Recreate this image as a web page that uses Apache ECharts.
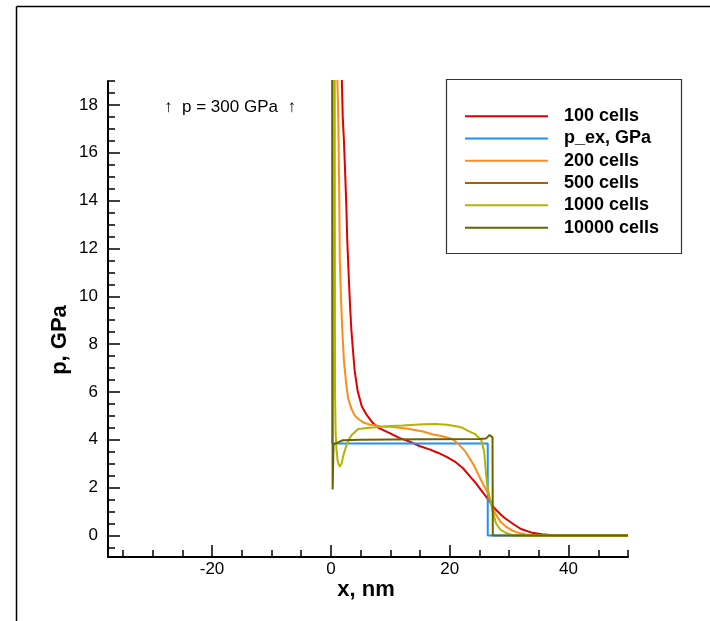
<!DOCTYPE html>
<html>
<head>
<meta charset="utf-8">
<script src="https://cdn.jsdelivr.net/npm/echarts@6/dist/echarts.min.js"></script>
<style>
  html, body { margin: 0; padding: 0; background: #fff; }
  #chart { width: 710px; height: 621px; }
</style>
</head>
<body>
<div id="chart"></div>
<script>
// 各曲线 [x, p] 点,x<0 处压力为 300 GPa(超出画面,由注记说明)
const cells100 = [[-37.5, 300], [1.5, 300], [1.8, 19.5], [2.0, 17.5], [2.2, 16.5], [2.4, 15.2], [2.6, 13.8],
  [2.75, 12.4], [3.05, 10.6], [3.25, 9.5], [3.45, 8.6], [3.7, 7.8], [4.0, 6.9], [4.5, 6.05], [5.2, 5.4],
  [6.0, 5.05], [7.0, 4.72], [8.0, 4.5], [9.9, 4.28], [11.5, 4.08], [13.2, 3.93], [14.9, 3.74], [16.6, 3.6],
  [18.0, 3.46], [19.4, 3.3], [20.8, 3.1], [22.2, 2.82], [23.3, 2.5], [24.4, 2.19], [25.5, 1.82], [26.5, 1.5],
  [27.5, 1.15], [28.5, 0.9], [29.2, 0.74], [30.8, 0.46], [32.0, 0.27], [33.9, 0.11], [35.5, 0.05],
  [36.5, 0.03], [37.0, 0], [50, 0]];
const pExact = [[-37.5, 300], [0.25, 300], [0.25, 3.85], [26.4, 3.85], [26.4, 0], [50, 0]];
const cells200 = [[-37.5, 300], [0.9, 300], [1.05, 19.5], [1.25, 17.5], [1.4, 14.5], [1.5, 11.6], [1.68, 10.1],
  [1.9, 8.7], [2.2, 7.3], [2.6, 6.3], [2.9, 5.75], [3.45, 5.3], [4.0, 5.02], [4.6, 4.88], [5.5, 4.72],
  [6.5, 4.64], [8.3, 4.57], [10.0, 4.54], [12.7, 4.47], [15.5, 4.35], [17.2, 4.22], [18.8, 4.15], [20.5, 4.02],
  [21.5, 3.82], [22.5, 3.55], [23.3, 3.25], [24.1, 2.92], [25.3, 2.3], [26.4, 1.78], [27.0, 1.35], [27.5, 1.0],
  [28.0, 0.78], [28.6, 0.56], [29.4, 0.38], [30.4, 0.22], [31.5, 0.12], [32.8, 0.04], [33.5, 0], [50, 0]];
// 500 cells:图中看不到单独的曲线(被其它曲线遮住),只出现在图例里
const cells500 = [];
const cells1000 = [[-37.5, 300], [0.5, 300], [0.65, 19.5], [0.7, 6.0], [0.8, 4.3], [0.95, 3.6], [1.15, 3.1],
  [1.5, 2.88], [1.8, 3.0], [2.1, 3.35], [2.6, 3.75], [3.0, 4.0], [3.5, 4.2], [4.6, 4.45], [6.5, 4.5],
  [8.5, 4.54], [10.0, 4.58], [12.1, 4.6], [15.5, 4.65], [17.7, 4.66], [19.5, 4.63], [21.1, 4.57], [22.2, 4.5],
  [23.0, 4.38], [24.2, 4.25], [25.3, 4.0], [25.8, 3.5], [26.1, 2.6], [26.4, 1.95], [26.7, 1.6], [27.2, 1.05],
  [27.8, 0.5], [28.5, 0.25], [29.6, 0.09], [30.5, 0.02], [31.0, 0], [50, 0]];
const cells10000 = [[-37.5, 300], [0.15, 300], [0.25, 19.5], [0.3, 1.92], [0.45, 3.8], [0.8, 3.85], [1.3, 3.9],
  [2.0, 3.98], [5.0, 4.0], [15.0, 4.02], [25.0, 4.03], [26.1, 4.05], [26.7, 4.2], [27.0, 4.26], [27.2, 4.1],
  [27.25, 0], [50, 0]];

const seriesNames = ["100 cells", "p_ex, GPa", "200 cells", "500 cells", "1000 cells", "10000 cells"];
const seriesColors = ["#e00000", "#1e90ff", "#ff8c1a", "#b05a0a", "#b4b400", "#666600"];
const seriesData = [cells100, pExact, cells200, cells500, cells1000, cells10000];

const xMajor = [-20, 0, 20, 40];
const xMinor = [-35, -30, -25, -15, -10, -5, 5, 10, 15, 25, 30, 35, 45, 50];
const yMajor = [0, 2, 4, 6, 8, 10, 12, 14, 16, 18];
const yMinor = [-0.5, 0.5, 1, 1.5, 2.5, 3, 3.5, 4.5, 5, 5.5, 6.5, 7, 7.5, 8.5, 9, 9.5, 10.5, 11, 11.5,
  12.5, 13, 13.5, 14.5, 15, 15.5, 16.5, 17, 17.5, 18.5, 19];

const FONT = "'Liberation Sans', Arial, sans-serif";
const X_MIN = -37.5, X_MAX = 50, Y_MIN = -0.9, Y_MAX = 19;

function axisPair(dim, major, minor, min, max) {
  const pos = dim === "x" ? "bottom" : "left";
  const base = { type: "value", min, max, position: pos, splitLine: { show: false }, minorTick: { show: false } };
  return [
    {
      ...base,
      axisLine: { show: true, onZero: false, lineStyle: { color: "#000", width: 2 } },
      axisTick: { show: true, inside: true, length: 12, customValues: major, lineStyle: { color: "#000", width: 1.5 } },
      axisLabel: {
        show: true, customValues: major, margin: dim === "x" ? 4 : 10,
        color: "#000", fontFamily: FONT, fontSize: 17,
      },
    },
    {
      ...base,
      axisLine: { show: false, onZero: false },
      axisTick: { show: true, inside: true, length: 7, customValues: minor, lineStyle: { color: "#000", width: 1.5 } },
      axisLabel: { show: false },
    },
  ];
}

const chart = echarts.init(document.getElementById("chart"));
chart.setOption({
  animation: false,
  backgroundColor: "#fff",
  grid: { left: 108, top: 81, width: 520, height: 476 },
  xAxis: axisPair("x", xMajor, xMinor, X_MIN, X_MAX),
  yAxis: axisPair("y", yMajor, yMinor, Y_MIN, Y_MAX),
  legend: {
    orient: "vertical",
    left: 465,
    top: 105,
    padding: 0,
    icon: "rect",
    itemWidth: 83,
    itemHeight: 2,
    itemGap: 0,
    data: seriesNames,
    textStyle: {
      color: "#000", fontFamily: FONT, fontSize: 18, fontWeight: "bold",
      lineHeight: 22.3, padding: [0, 0, 0, 11],
    },
  },
  graphic: [
    { type: "line", shape: { x1: 16.5, y1: 6.5, x2: 710, y2: 6.5 }, style: { stroke: "#000", lineWidth: 1.5 } },
    { type: "line", shape: { x1: 16.5, y1: 6.5, x2: 16.5, y2: 621 }, style: { stroke: "#000", lineWidth: 1.5 } },
    { type: "rect", z: 1, shape: { x: 446.5, y: 79.5, width: 235, height: 174 }, style: { fill: "#fff", stroke: "#333", lineWidth: 1.2 } },
    {
      type: "text", x: 230, y: 107,
      style: { text: "\u2191  p = 300 GPa  \u2191", fill: "#000", font: "17px " + FONT, textAlign: "center", textVerticalAlign: "middle" },
    },
    {
      type: "text", x: 366, y: 590,
      style: { text: "x, nm", fill: "#000", font: "bold 22px " + FONT, textAlign: "center", textVerticalAlign: "middle" },
    },
    {
      type: "text", x: 60, y: 340, rotation: Math.PI / 2,
      style: { text: "p, GPa", fill: "#000", font: "bold 22px " + FONT, textAlign: "center", textVerticalAlign: "middle" },
    },
  ],
  series: seriesNames.map((name, i) => ({
    name,
    type: "line",
    data: seriesData[i],
    symbol: "none",
    clip: true,
    color: seriesColors[i],
    lineStyle: { color: seriesColors[i], width: 2 },
    z: 2 + i,
  })),
});
</script>
</body>
</html>
